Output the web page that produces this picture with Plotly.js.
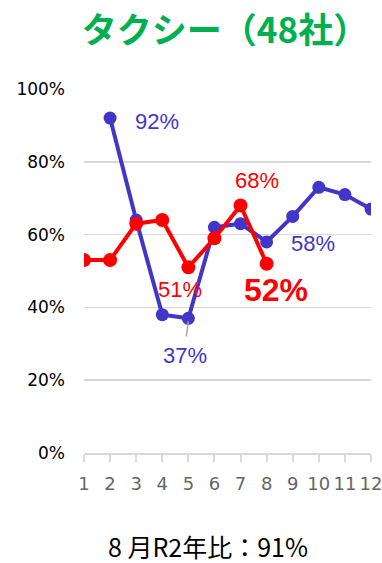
<!DOCTYPE html>
<html>
<head>
<meta charset="utf-8">
<script src="https://cdn.plot.ly/plotly-3.0.1.min.js"></script>
<style>
  html, body { margin: 0; padding: 0; background: #fff; }
  #chart { width: 382px; height: 563px; }
</style>
</head>
<body>
<div id="chart"></div>
<script>
// Monthly ratio (%) for taxis, 48 companies
const months = [1, 2, 3, 4, 5, 6, 7, 8, 9, 10, 11, 12];
const monthLabels = ['1', '2', '3', '4', '5', '6', '7', '8', '9', '10', '11', '12'];
const blueValues = [null, 92, 64, 38, 37, 62, 63, 58, 65, 73, 71, 67];
const redValues = [53, 53, 63, 64, 51, 59, 68, 52];
const yTicks = [0, 20, 40, 60, 80, 100];
const yTickLabels = ['0%', '20%', '40%', '60%', '80%', '100%'];

const titleText = 'タクシー（48社）';
const footerText = '8 月R2年比：91%';

const BLUE = '#4236C8';
const RED = '#FF0000';

const traces = [
  {
    x: months, y: blueValues, type: 'scatter', mode: 'lines+markers',
    line: { color: BLUE, width: 4 },
    marker: { color: BLUE, size: 13 },
    connectgaps: false, hoverinfo: 'skip'
  },
  {
    x: months.slice(0, redValues.length), y: redValues, type: 'scatter', mode: 'lines+markers',
    line: { color: RED, width: 4 },
    marker: { color: RED, size: 14 },
    hoverinfo: 'skip'
  }
];

// value labels placed next to their points
function label(month, value, color, dx, dy, size, bold) {
  return {
    x: month, y: value, xref: 'x', yref: 'y',
    text: bold ? '<b>' + value + '%</b>' : value + '%',
    showarrow: false, xshift: dx, yshift: dy,
    font: { family: 'Liberation Sans, Arial, sans-serif', size: size, color: color }
  };
}

const annotations = [
  label(2, blueValues[1], BLUE, 47, -3, 22),
  label(7, redValues[6], RED, 16, 25, 22),
  label(8, blueValues[7], BLUE, 46, -2, 22),
  label(5, redValues[4], RED, -8, -22, 22),
  label(8, redValues[7], RED, 9, -26, 32, true),
  label(5, blueValues[4], BLUE, -3, -37, 22),
  {
    x: 0.432, y: -0.2555, xref: 'paper', yref: 'paper',
    xanchor: 'center', yanchor: 'middle', height: 28, valign: 'middle',
    text: footerText, showarrow: false,
    font: { family: 'Noto Sans CJK JP, sans-serif', size: 25, color: '#000' }
  }
];

// short leader from the 37% label up to its point
const shapes = [
  {
    type: 'line', xref: 'x', yref: 'y',
    xsizemode: 'pixel', ysizemode: 'pixel',
    xanchor: 5, yanchor: blueValues[4],
    x0: 0, x1: -2, y0: -3, y1: -18,
    line: { color: '#A6A6A6', width: 1.5 }
  }
];

const layout = {
  width: 382, height: 563,
  margin: { l: 84, r: 11, t: 89, b: 110 },
  paper_bgcolor: '#fff', plot_bgcolor: '#fff',
  showlegend: false,
  title: {
    text: '<b>' + titleText + '</b>',
    xref: 'container', yref: 'container',
    x: 0.589, y: 1 - 31 / 563, xanchor: 'center', yanchor: 'middle',
    font: { family: 'Noto Sans CJK JP, sans-serif', size: 35, color: '#00B050' }
  },
  xaxis: {
    range: [1, 12], tickvals: months, ticktext: monthLabels,
    showgrid: false, zeroline: false,
    showline: true, linecolor: '#D9D9D9', linewidth: 2,
    ticks: 'outside', ticklen: 7, tickcolor: '#D9D9D9', tickwidth: 2,
    ticklabelstandoff: 6, ticklabeloverflow: 'allow',
    tickfont: { family: 'DejaVu Sans, sans-serif', size: 18, color: '#666' },
    fixedrange: true
  },
  yaxis: {
    range: [0, 100], tickvals: yTicks, ticktext: yTickLabels,
    showgrid: true, gridcolor: '#D9D9D9', gridwidth: 1.5,
    zeroline: false, showline: false, ticks: '',
    ticklabelstandoff: 18,
    tickfont: { family: 'DejaVu Sans, sans-serif', size: 17, color: '#000' },
    fixedrange: true
  },
  annotations: annotations,
  shapes: shapes
};

Plotly.newPlot('chart', traces, layout, { displayModeBar: false, staticPlot: true });
</script>
</body>
</html>
